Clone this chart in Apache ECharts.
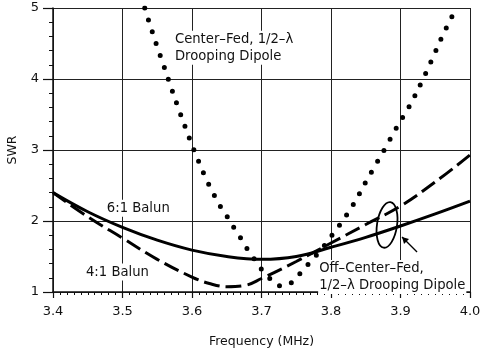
<!DOCTYPE html>
<html>
<head>
<meta charset="utf-8">
<script src="https://cdn.jsdelivr.net/npm/echarts@6/dist/echarts.min.js"></script>
<style>
  html, body { margin: 0; padding: 0; background: #fff; }
  #chart { width: 489px; height: 352px; }
</style>
</head>
<body>
<div id="chart"></div>
<script>
// frequency (MHz) / SWR pairs
var centerFed = [
  [3.532, 5.0], [3.54, 4.75], [3.55, 4.45], [3.56, 4.17], [3.57, 3.88], [3.58, 3.6],
  [3.59, 3.33], [3.60, 3.07], [3.61, 2.83], [3.62, 2.6], [3.63, 2.4], [3.64, 2.22],
  [3.65, 2.07], [3.66, 1.91], [3.67, 1.76], [3.68, 1.6], [3.69, 1.46], [3.70, 1.32],
  [3.71, 1.21], [3.72, 1.12], [3.73, 1.08], [3.74, 1.11], [3.75, 1.2], [3.76, 1.31],
  [3.77, 1.42], [3.78, 1.53], [3.79, 1.65], [3.80, 1.78], [3.81, 1.91], [3.82, 2.05],
  [3.83, 2.2], [3.84, 2.37], [3.85, 2.55], [3.86, 2.72], [3.87, 2.89], [3.88, 3.06],
  [3.89, 3.24], [3.90, 3.41], [3.91, 3.57], [3.92, 3.75], [3.93, 3.95], [3.94, 4.16],
  [3.95, 4.38], [3.96, 4.6], [3.97, 4.8], [3.98, 5.0]
];
var balun4 = [
  [3.40, 2.40], [3.45, 2.06], [3.50, 1.76], [3.55, 1.46], [3.60, 1.21], [3.625, 1.12],
  [3.65, 1.075], [3.675, 1.09], [3.70, 1.19], [3.75, 1.43], [3.80, 1.69], [3.85, 1.95],
  [3.90, 2.21], [3.95, 2.55], [4.00, 2.93]
];
var balun6 = [
  [3.40, 2.40], [3.45, 2.13], [3.50, 1.91], [3.55, 1.73], [3.60, 1.59], [3.65, 1.50],
  [3.70, 1.46], [3.75, 1.50], [3.80, 1.63], [3.85, 1.77], [3.90, 1.93], [3.95, 2.10],
  [4.00, 2.28]
];

var fontFamily = 'DejaVu Sans';

var chart = echarts.init(document.getElementById('chart'));
chart.setOption({
  animation: false,
  backgroundColor: '#fff',
  grid: { left: 53, right: 19, top: 8, bottom: 60, outerBoundsMode: 'none' },
  xAxis: {
    type: 'value',
    min: 3.4,
    max: 4.0,
    interval: 0.1,
    name: 'Frequency (MHz)',
    nameLocation: 'middle',
    nameGap: 43,
    nameTextStyle: { fontFamily: fontFamily, fontSize: 12.5, color: '#111' },
    axisLine: { lineStyle: { color: '#111', width: 1.5 } },
    axisTick: { length: 6, lineStyle: { color: '#111', width: 1.2 } },
    minorTick: { show: true, splitNumber: 10, length: 3, lineStyle: { color: '#111', width: 1 } },
    axisLabel: {
      fontFamily: fontFamily, fontSize: 13, color: '#111', margin: 13,
      formatter: function (v) { return v.toFixed(1); }
    },
    splitLine: { show: true, lineStyle: { color: '#222', width: 1 } }
  },
  yAxis: {
    type: 'value',
    min: 1,
    max: 5,
    interval: 1,
    name: 'SWR',
    nameLocation: 'middle',
    nameRotate: 90,
    nameGap: 34,
    nameTextStyle: { fontFamily: fontFamily, fontSize: 12.5, color: '#111' },
    axisLine: { show: true, lineStyle: { color: '#111', width: 1.5 } },
    axisTick: { show: true, length: 10, lineStyle: { color: '#111', width: 1.2 } },
    minorTick: { show: true, splitNumber: 5, length: 4, lineStyle: { color: '#111', width: 1 } },
    axisLabel: { fontFamily: fontFamily, fontSize: 13, color: '#111', margin: 14 },
    splitLine: { show: true, lineStyle: { color: '#222', width: 1 } }
  },
  series: [{
    name: 'Center-Fed',
    type: 'line',
    data: centerFed,
    smooth: 0.4,
    showSymbol: false,
    lineStyle: { color: '#000', width: 5, type: [0, 12.5], cap: 'round' }
  }, {
    name: '4:1 Balun',
    type: 'line',
    data: balun4,
    smooth: 0.4,
    showSymbol: false,
    lineStyle: { color: '#000', width: 3, type: [16, 6] }
  }, {
    name: '6:1 Balun',
    type: 'line',
    data: balun6,
    smooth: 0.4,
    showSymbol: false,
    lineStyle: { color: '#000', width: 3 }
  }]
});

// annotations placed in data coordinates
function px(x, y) { return chart.convertToPixel({ gridIndex: 0 }, [x, y]); }
function label(x, y, text) {
  var p = px(x, y);
  return {
    type: 'text', x: p[0], y: p[1], z: 50,
    style: {
      text: text, fontFamily: fontFamily, fontSize: 13.2, fill: '#111',
      lineHeight: 17, backgroundColor: '#fff', padding: [0, 1]
    }
  };
}
var ell = px(3.8806, 1.944);
var a0 = px(3.9238, 1.563);
var a1 = px(3.9022, 1.775);
chart.setOption({
  graphic: [
    label(3.574, 4.68, 'Center\u2013Fed, 1/2\u2013\u03bb\nDrooping Dipole'),
    label(3.476, 2.3, '6:1 Balun'),
    label(3.446, 1.40, '4:1 Balun'),
    label(3.7815, 1.45, 'Off\u2013Center\u2013Fed,\n1/2\u2013\u03bb Drooping Dipole'),
    {
      type: 'ellipse', z: 60,
      x: ell[0], y: ell[1], rotation: -0.15,
      shape: { cx: 0, cy: 0, rx: 10, ry: 23 },
      style: { fill: null, stroke: '#000', lineWidth: 1.8 }
    },
    {
      type: 'polyline', z: 60,
      shape: { points: [a0, a1] },
      style: { stroke: '#000', lineWidth: 1.3, fill: null }
    },
    {
      type: 'polygon', z: 60,
      shape: { points: [a1, [a1[0] + 7, a1[1] + 2], [a1[0] + 2, a1[1] + 7]] },
      style: { fill: '#000' }
    }
  ]
});
</script>
</body>
</html>
